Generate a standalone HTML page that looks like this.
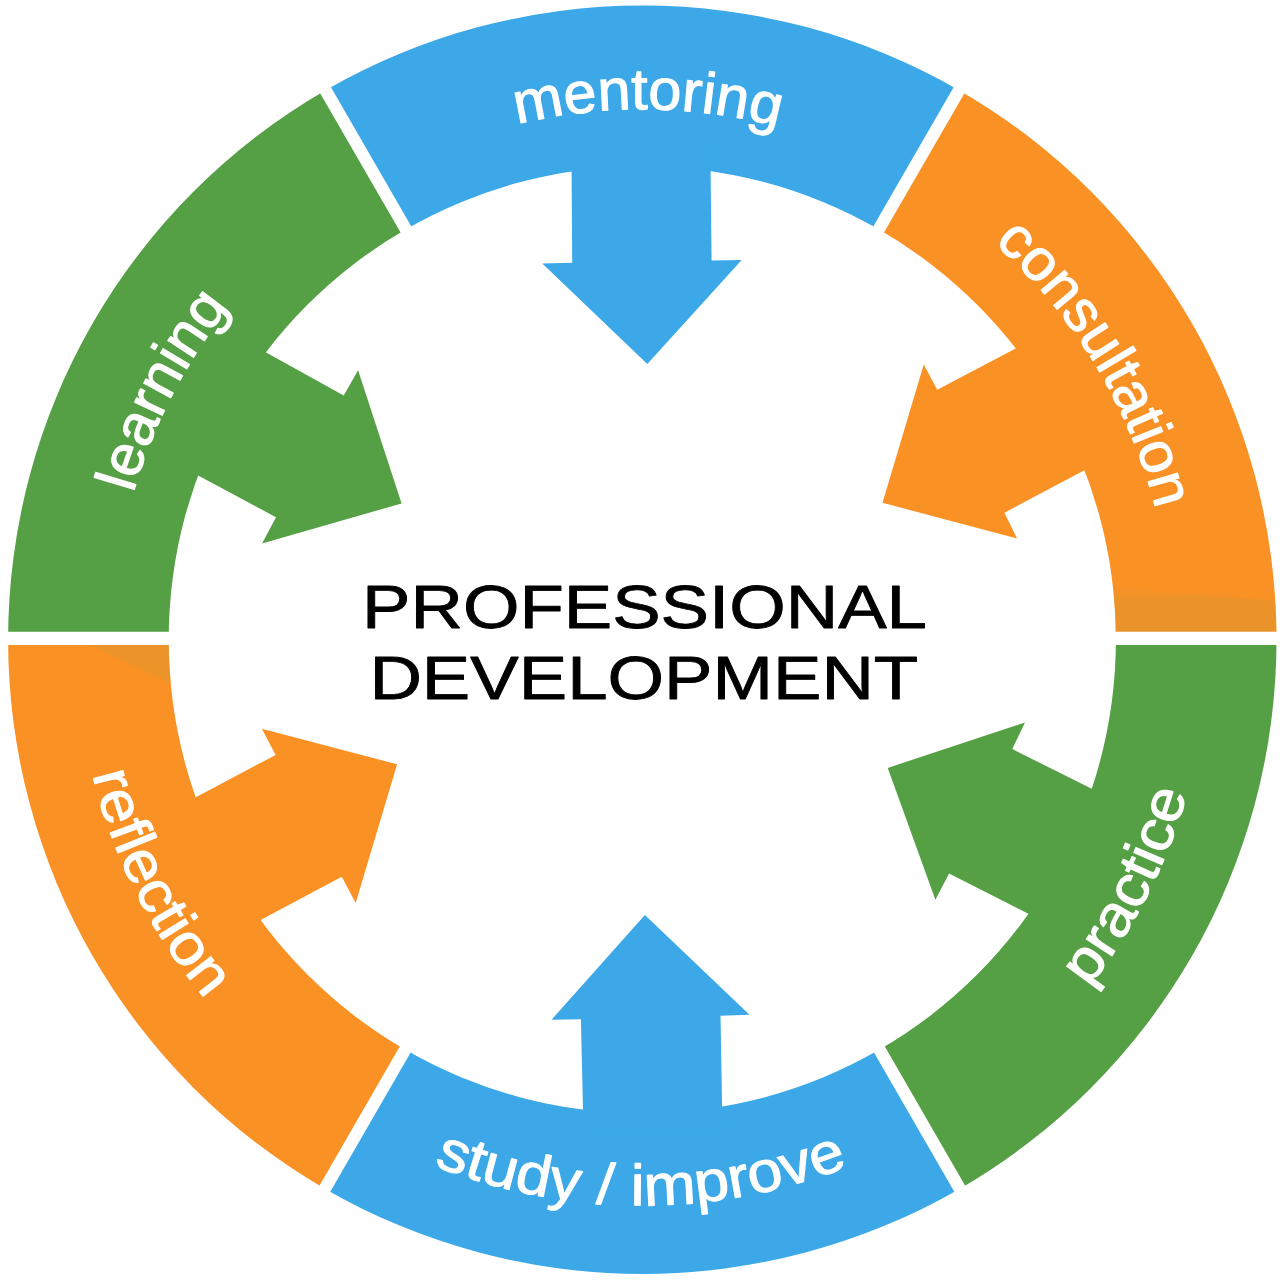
<!DOCTYPE html>
<html lang="en"><head><meta charset="utf-8"><title>Professional Development</title>
<style>html,body{margin:0;padding:0;background:#fff}body{width:1280px;height:1280px;overflow:hidden}svg{display:block}text{font-family:"Liberation Sans",Arial,Helvetica,sans-serif}</style></head><body>
<svg width="1280" height="1280" viewBox="0 0 1280 1280">
<rect width="1280" height="1280" fill="#fff"/>
<g id="ring">
<path d="M325.20 90.47 A634.2 634.2 0 0 1 959.40 90.47 L879.10 229.55 A473.6 473.6 0 0 0 405.50 229.55 Z" fill="#3CA8E8"/>
<path d="M959.40 90.47 A634.2 634.2 0 0 1 1276.50 639.70 L1115.90 639.70 A473.6 473.6 0 0 0 879.10 229.55 Z" fill="#FA9125"/>
<path d="M1276.50 639.70 A634.2 634.2 0 0 1 959.40 1188.93 L879.10 1049.85 A473.6 473.6 0 0 0 1115.90 639.70 Z" fill="#55A044"/>
<path d="M959.40 1188.93 A634.2 634.2 0 0 1 325.20 1188.93 L405.50 1049.85 A473.6 473.6 0 0 0 879.10 1049.85 Z" fill="#3CA8E8"/>
<path d="M325.20 1188.93 A634.2 634.2 0 0 1 8.10 639.70 L168.70 639.70 A473.6 473.6 0 0 0 405.50 1049.85 Z" fill="#FA9125"/>
<path d="M8.10 639.70 A634.2 634.2 0 0 1 325.20 90.47 L405.50 229.55 A473.6 473.6 0 0 0 168.70 639.70 Z" fill="#55A044"/>
</g>
<defs><clipPath id="ringclip"><path clip-rule="evenodd" d="M8.099999999999909 639.7 A634.2 634.2 0 1 1 1276.5 639.7 A634.2 634.2 0 1 1 8.099999999999909 639.7 Z M168.69999999999993 639.7 A473.6 473.6 0 1 0 1115.9 639.7 A473.6 473.6 0 1 0 168.69999999999993 639.7 Z"/></clipPath><linearGradient id="shadeR" x1="0" y1="0" x2="0" y2="1"><stop offset="0" stop-color="#E0952E" stop-opacity="0"/><stop offset="0.25" stop-color="#E0952E" stop-opacity="0.55"/><stop offset="1" stop-color="#E0952E" stop-opacity="0.7"/></linearGradient></defs>
<g id="shade" clip-path="url(#ringclip)">
<polygon points="1100,586 1290,602 1290,640 1100,640" fill="url(#shadeR)"/>
<polygon points="80,640 172,640 172,684" fill="#E0952E" fill-opacity="0.55"/>
</g>
<g id="dividers" stroke="#fff">
<line x1="1110.90" y1="638.40" x2="1284.30" y2="638.40" stroke-width="13.2"/>
<line x1="876.60" y1="1044.62" x2="963.30" y2="1194.79" stroke-width="12.4"/>
<line x1="408.00" y1="1044.62" x2="321.30" y2="1194.79" stroke-width="12.4"/>
<line x1="173.70" y1="638.40" x2="0.30" y2="638.40" stroke-width="13.2"/>
<line x1="408.00" y1="232.98" x2="321.30" y2="82.81" stroke-width="12.4"/>
<line x1="876.60" y1="232.98" x2="963.30" y2="82.81" stroke-width="12.4"/>
</g>
<g id="arrows">
<polygon points="571.44,146.50 572.20,262.80 542.30,263.40 647.30,364.10 741.70,260.00 711.60,260.60 710.32,146.50" fill="#3CA8E8"/>
<polygon points="1037.72,336.85 937.25,389.75 923.75,364.60 882.50,502.80 1017.10,538.40 1004.40,512.75 1107.09,458.29" fill="#FA9125"/>
<polygon points="1114.87,800.25 1012.25,749.10 1025.00,722.50 887.75,767.90 935.40,899.70 949.10,873.40 1050.09,924.73" fill="#55A044"/>
<polygon points="583.58,1134.49 580.90,1019.30 551.50,1019.75 644.90,915.10 749.50,1014.70 720.50,1015.70 722.54,1131.50" fill="#3CA8E8"/>
<polygon points="173.32,809.23 275.60,754.90 261.90,728.70 397.10,764.30 355.70,903.10 341.80,876.80 238.92,931.48" fill="#FA9125"/>
<polygon points="244.04,340.26 343.70,395.60 358.10,370.25 401.60,503.40 262.10,543.50 276.00,517.25 175.78,463.42" fill="#55A044"/>
</g>
<g id="labels">
<path id="p0" d="M240.27 294.22 A529.5 529.5 0 0 1 1051.46 302.71" fill="none"/><text font-size="58" fill="#fff" stroke="#fff" stroke-width="1.1" stroke-linejoin="round"><textPath href="#p0" startOffset="50%" text-anchor="middle" textLength="263.70" lengthAdjust="spacingAndGlyphs">mentoring</textPath></text>
<path id="p1" d="M722.76 115.45 A529.5 529.5 0 0 1 1143.73 808.91" fill="none"/><text font-size="58" fill="#fff" stroke="#fff" stroke-width="1.1" stroke-linejoin="round"><textPath href="#p1" startOffset="50%" text-anchor="middle" textLength="316.48" lengthAdjust="spacingAndGlyphs">consultation</textPath></text>
<path id="p2" d="M770.70 1190.56 A566.5 566.5 0 0 0 1163.38 416.54" fill="none"/><text font-size="58" fill="#fff" stroke="#fff" stroke-width="1.0" stroke-linejoin="round"><textPath href="#p2" startOffset="50%" text-anchor="middle" textLength="219.22" lengthAdjust="spacingAndGlyphs">practice</textPath></text>
<path id="p3" d="M207.45 1001.88 A566.5 566.5 0 0 0 1075.37 1004.00" fill="none"/><text font-size="58" fill="#fff" stroke="#fff" stroke-width="1.0" stroke-linejoin="round"><textPath href="#p3" startOffset="50%" text-anchor="middle" textLength="424.48" lengthAdjust="spacingAndGlyphs">study / improve</textPath></text>
<path id="p4" d="M122.04 414.63 A566.5 566.5 0 0 0 511.88 1190.08" fill="none"/><text font-size="58" fill="#fff" stroke="#fff" stroke-width="1.0" stroke-linejoin="round"><textPath href="#p4" startOffset="50%" text-anchor="middle" textLength="254.03" lengthAdjust="spacingAndGlyphs">reflection</textPath></text>
<path id="p5" d="M153.57 842.54 A529.5 529.5 0 0 1 526.52 122.11" fill="none"/><text font-size="58" fill="#fff" stroke="#fff" stroke-width="1.1" stroke-linejoin="round"><textPath href="#p5" startOffset="50%" text-anchor="middle" textLength="210.99" lengthAdjust="spacingAndGlyphs">learning</textPath></text>
</g>
<g id="title" fill="#000" stroke="#000" stroke-width="0.9" stroke-linejoin="round">
<text transform="translate(644.5 627.8) scale(1.185 1)" font-size="61.3" text-anchor="middle" vector-effect="non-scaling-stroke">PROFESSIONAL</text>
<text transform="translate(643.8 699.2) scale(1.185 1)" font-size="61.3" text-anchor="middle" vector-effect="non-scaling-stroke">DEVELOPMENT</text>
</g>
</svg></body></html>
